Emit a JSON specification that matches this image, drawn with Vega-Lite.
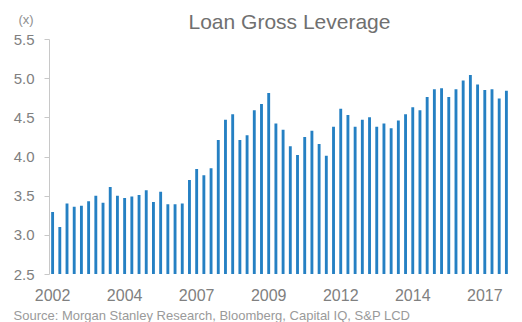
{
  "$schema": "https://vega.github.io/schema/vega-lite/v6.json",
  "width": 461,
  "height": 235,
  "autosize": {"type": "none"},
  "padding": {"left": 49, "top": 39, "right": 12, "bottom": 48},
  "background": "white",
  "config": {
    "font": "Liberation Sans",
    "view": {"stroke": null}
  },
  "title": {
    "text": "Loan Gross Leverage",
    "fontSize": 21,
    "fontWeight": "normal",
    "color": "#707070",
    "anchor": "middle",
    "frame": "group",
    "dx": 10,
    "offset": -20
  },
  "data": {
    "values": [
      {"q": "2002Q1", "v": 3.29}, {"q": "2002Q2", "v": 3.10}, {"q": "2002Q3", "v": 3.40}, {"q": "2002Q4", "v": 3.36},
      {"q": "2003Q1", "v": 3.37}, {"q": "2003Q2", "v": 3.43}, {"q": "2003Q3", "v": 3.50}, {"q": "2003Q4", "v": 3.41},
      {"q": "2004Q1", "v": 3.61}, {"q": "2004Q2", "v": 3.50}, {"q": "2004Q3", "v": 3.47}, {"q": "2004Q4", "v": 3.49},
      {"q": "2005Q1", "v": 3.51}, {"q": "2005Q2", "v": 3.57}, {"q": "2005Q3", "v": 3.42}, {"q": "2005Q4", "v": 3.55},
      {"q": "2006Q1", "v": 3.39}, {"q": "2006Q2", "v": 3.39}, {"q": "2006Q3", "v": 3.40}, {"q": "2006Q4", "v": 3.70},
      {"q": "2007Q1", "v": 3.84}, {"q": "2007Q2", "v": 3.76}, {"q": "2007Q3", "v": 3.85}, {"q": "2007Q4", "v": 4.21},
      {"q": "2008Q1", "v": 4.47}, {"q": "2008Q2", "v": 4.54}, {"q": "2008Q3", "v": 4.21}, {"q": "2008Q4", "v": 4.27},
      {"q": "2009Q1", "v": 4.59}, {"q": "2009Q2", "v": 4.67}, {"q": "2009Q3", "v": 4.81}, {"q": "2009Q4", "v": 4.42},
      {"q": "2010Q1", "v": 4.34}, {"q": "2010Q2", "v": 4.13}, {"q": "2010Q3", "v": 4.02}, {"q": "2010Q4", "v": 4.25},
      {"q": "2011Q1", "v": 4.33}, {"q": "2011Q2", "v": 4.16}, {"q": "2011Q3", "v": 4.01}, {"q": "2011Q4", "v": 4.38},
      {"q": "2012Q1", "v": 4.61}, {"q": "2012Q2", "v": 4.53}, {"q": "2012Q3", "v": 4.38}, {"q": "2012Q4", "v": 4.47},
      {"q": "2013Q1", "v": 4.50}, {"q": "2013Q2", "v": 4.38}, {"q": "2013Q3", "v": 4.42}, {"q": "2013Q4", "v": 4.36},
      {"q": "2014Q1", "v": 4.46}, {"q": "2014Q2", "v": 4.54}, {"q": "2014Q3", "v": 4.63}, {"q": "2014Q4", "v": 4.59},
      {"q": "2015Q1", "v": 4.76}, {"q": "2015Q2", "v": 4.86}, {"q": "2015Q3", "v": 4.87}, {"q": "2015Q4", "v": 4.76},
      {"q": "2016Q1", "v": 4.86}, {"q": "2016Q2", "v": 4.97}, {"q": "2016Q3", "v": 5.04}, {"q": "2016Q4", "v": 4.92},
      {"q": "2017Q1", "v": 4.85}, {"q": "2017Q2", "v": 4.86}, {"q": "2017Q3", "v": 4.74}, {"q": "2017Q4", "v": 4.84}
    ]
  },
  "mark": {"type": "bar", "color": "#2580c3", "clip": true},
  "encoding": {
    "x": {
      "field": "q",
      "type": "ordinal",
      "sort": null,
      "scale": {"paddingInner": 0.6, "paddingOuter": 0.3},
      "axis": {
        "values": ["2002Q1", "2004Q3", "2007Q1", "2009Q3", "2012Q1", "2014Q3", "2017Q1"],
        "labelExpr": "slice(datum.value, 0, 4)",
        "labelAngle": 0,
        "labelFontSize": 16,
        "labelColor": "#808080",
        "labelPadding": 13,
        "ticks": false,
        "domain": false,
        "title": "Source: Morgan Stanley Research, Bloomberg, Capital IQ, S&P LCD",
        "titleFontSize": 13,
        "titleFontWeight": "normal",
        "titleColor": "#9a9a9a",
        "titleAnchor": "start",
        "titleAlign": "left",
        "titleX": -36,
        "titleY": 45,
        "titleBaseline": "alphabetic"
      }
    },
    "y": {
      "field": "v",
      "type": "quantitative",
      "scale": {"domain": [2.5, 5.5], "nice": false, "zero": false},
      "axis": {
        "values": [2.5, 3.0, 3.5, 4.0, 4.5, 5.0, 5.5],
        "format": ".1f",
        "grid": false,
        "labelFontSize": 15,
        "labelColor": "#808080",
        "labelPadding": 10,
        "tickSize": 5,
        "tickColor": "#c8c8c8",
        "domainColor": "#c8c8c8",
        "title": "(x)",
        "titleAngle": 0,
        "titleFontSize": 13,
        "titleFontWeight": "normal",
        "titleColor": "#909090",
        "titleAlign": "left",
        "titleBaseline": "middle",
        "titleX": -31,
        "titleY": -20
      }
    }
  }
}
